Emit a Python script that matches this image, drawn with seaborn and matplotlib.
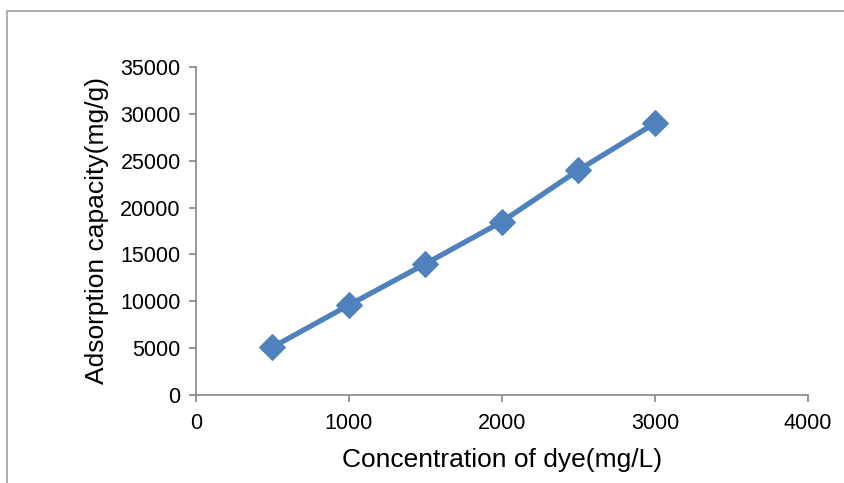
import pandas as pd
import matplotlib.pyplot as plt
import seaborn as sns
from matplotlib.patches import Rectangle

# Data
concentration = [500, 1000, 1500, 2000, 2500, 3000]
capacity = [5100, 9600, 14000, 18500, 24000, 29000]

df = pd.DataFrame({'conc': concentration, 'cap': capacity})

sns.set_style('white')
plt.rcParams['font.family'] = ['Liberation Sans', 'DejaVu Sans']

fig = plt.figure(figsize=(8.44, 4.83), dpi=100)
ax = fig.add_axes([0.2322, 0.1822, 0.7251, 0.6791])

# Outer chart border (Excel-style)
fig.patches.append(Rectangle((7 / 844, -0.1), 1.2, 1 - 11 / 483 + 0.1,
                             transform=fig.transFigure, fill=False,
                             edgecolor='#a0a0a0', linewidth=1.2))

sns.lineplot(data=df, x='conc', y='cap', ax=ax, color='#4f81bd',
             linewidth=3.8, marker='D', markersize=13,
             markeredgecolor='#4f81bd')

ax.set_xlim(0, 4000)
ax.set_ylim(0, 35000)
ax.set_xticks(range(0, 4001, 1000))
ax.set_yticks(range(0, 35001, 5000))

for side in ['top', 'right']:
    ax.spines[side].set_visible(False)
for side in ['left', 'bottom']:
    ax.spines[side].set_color('#868686')
    ax.spines[side].set_linewidth(1.2)

ax.tick_params(axis='both', direction='out', length=5, width=1.2,
               bottom=True, left=True,
               color='#868686', labelsize=15.5, labelcolor='black')
ax.tick_params(axis='y', pad=6)
ax.tick_params(axis='x', pad=8)

ax.set_xlabel('Concentration of dye(mg/L)', fontsize=19, labelpad=10,
              color='black')
ax.set_ylabel('Adsorption capacity(mg/g)', fontsize=19, labelpad=8,
              color='black')

plt.savefig('out.png', dpi=100)
